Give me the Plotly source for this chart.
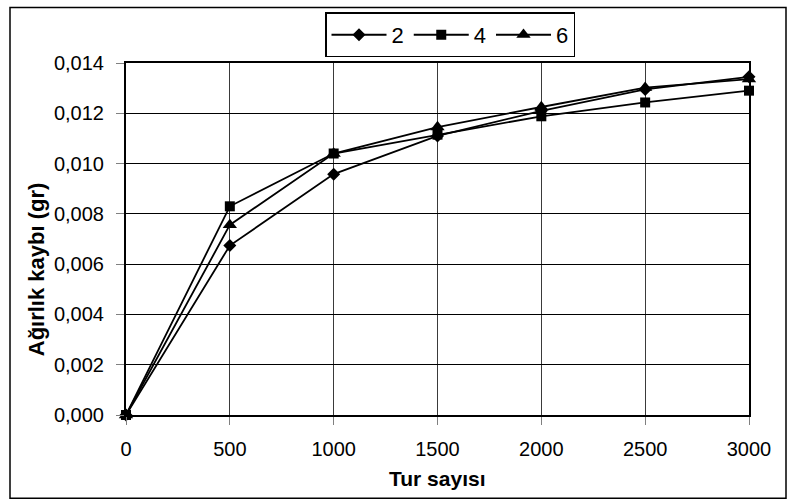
import plotly.graph_objects as go

# Wear test: weight loss against number of revolutions
tur = [0, 500, 1000, 1500, 2000, 2500, 3000]
kayip_2 = [0.0, 0.00674, 0.00958, 0.01110, 0.01210, 0.01295, 0.01345]
kayip_4 = [0.0, 0.00830, 0.01040, 0.01115, 0.01188, 0.01243, 0.01290]
kayip_6 = [0.0, 0.00756, 0.01040, 0.01145, 0.01225, 0.01302, 0.01336]
seri_adlari = ["2", "4", "6"]
y_ticks = [0.000, 0.002, 0.004, 0.006, 0.008, 0.010, 0.012, 0.014]

W, H = 790, 503
L, R, T, B = 126, 749, 60, 415  # plot area in pixels


def px(x):
    return (x - L) / (R - L)


def py(y):
    return (B - y) / (B - T)


FONT = "Liberation Sans, Arial, sans-serif"

fig = go.Figure()
for vals, name, sym, size in [
    (kayip_2, seri_adlari[0], "diamond", 10),
    (kayip_4, seri_adlari[1], "square", 10),
    (kayip_6, seri_adlari[2], "triangle-up", 12.5),
]:
    fig.add_trace(go.Scatter(
        x=tur, y=vals, name=name, mode="lines+markers",
        line=dict(color="black", width=1.8),
        marker=dict(symbol=sym, size=size, color="black"),
        cliponaxis=False,
    ))

fig.update_layout(
    width=W, height=H, autosize=False,
    margin=dict(l=L, r=W - R, t=T, b=H - B, pad=0),
    paper_bgcolor="white", plot_bgcolor="white",
    separators=",.",
    font=dict(family=FONT, size=20, color="black"),
    showlegend=True,
    legend=dict(
        orientation="h", x=px(450), xanchor="center", y=py(9), yanchor="top",
        bgcolor="white", bordercolor="black", borderwidth=1.5,
        font=dict(size=22), itemwidth=55, tracegroupgap=0,
    ),
    xaxis=dict(
        range=[0, 3000], tickvals=tur, tickformat="d",
        showgrid=True, gridcolor="#3a3a3a", gridwidth=1,
        showline=True, linecolor="black", linewidth=2, mirror=True,
        ticks="outside", ticklen=8, tickcolor="#808080", tickwidth=1,
        ticklabelstandoff=7,
        zeroline=False,
    ),
    yaxis=dict(
        range=[0, 0.014], tickvals=y_ticks, tickformat=".3f",
        showgrid=True, gridcolor="black", gridwidth=1,
        showline=True, linecolor="black", linewidth=2, mirror=True,
        ticks="outside", ticklen=8, tickcolor="#808080", tickwidth=1,
        ticklabelstandoff=8,
        zeroline=False,
    ),
    annotations=[
        dict(text="<b>Tur sayısı</b>", xref="paper", yref="paper",
             x=px(437), y=py(479), xanchor="center", yanchor="middle",
             showarrow=False, font=dict(size=21)),
        dict(text="<b>Ağırlık kaybı (gr)</b>", xref="paper", yref="paper",
             x=px(36), y=py(268), xanchor="center", yanchor="middle",
             textangle=-90, showarrow=False, font=dict(size=22)),
    ],
    shapes=[dict(
        type="rect", xref="paper", yref="paper",
        x0=px(10), x1=px(786), y0=py(499), y1=py(4),
        line=dict(color="black", width=1.5), layer="below",
    )],
)

fig.write_html("out.html")
